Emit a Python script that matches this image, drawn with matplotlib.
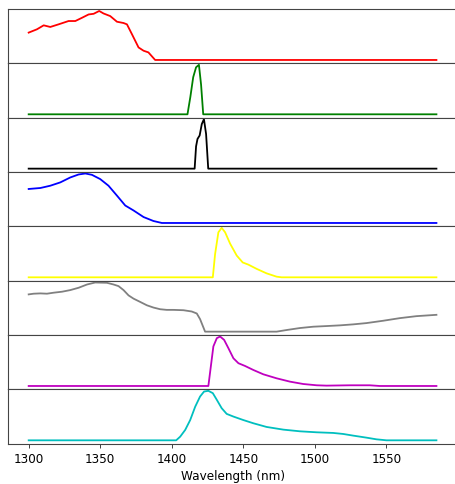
import matplotlib
matplotlib.use("Agg")
import matplotlib.pyplot as plt

# normalised spectra (wavelength in nm, intensity 0..1)
red_x = [1300, 1305.8, 1310.5, 1315.1, 1320.9, 1327.9, 1332.6, 1337.3, 1341.9, 1345.4, 1349.3,
         1352.3, 1357, 1361.7, 1366.3, 1368.7, 1372.2, 1376.8, 1380.3, 1383.7, 1388.4, 1585]
red_y = [0.553, 0.62, 0.70, 0.667, 0.72, 0.787, 0.787, 0.853, 0.92, 0.933, 0.99,
         0.94, 0.887, 0.773, 0.747, 0.72, 0.52, 0.253, 0.187, 0.153, 0.0, 0.0]

green_x = [1300, 1411, 1413, 1415, 1417, 1419, 1420.5, 1422, 1585]
green_y = [0.0, 0.0, 0.35, 0.75, 0.95, 1.0, 0.6, 0.0, 0.0]

black_x = [1300, 1416, 1417, 1418, 1419.5, 1421, 1422.5, 1424, 1425.5, 1585]
black_y = [0.0, 0.0, 0.45, 0.6, 0.67, 0.9, 1.0, 0.7, 0.0, 0.0]

blue_x = [1300, 1308.2, 1315.1, 1322.1, 1329.1, 1334.9, 1339.6, 1344.2, 1350, 1355.8,
          1361.7, 1367.5, 1373.3, 1380.3, 1387.2, 1393.1, 1585]
blue_y = [0.687, 0.707, 0.753, 0.82, 0.92, 0.98, 1.0, 0.973, 0.887, 0.753,
          0.553, 0.353, 0.253, 0.12, 0.04, 0.0, 0.0]

yellow_x = [1300, 1428.7, 1430.3, 1432.6, 1434.9, 1437.3, 1440.8, 1445.4, 1449.6, 1453.5,
            1459.4, 1466.3, 1473.3, 1476.8, 1585]
yellow_y = [0.0, 0.0, 0.47, 0.91, 1.0, 0.91, 0.68, 0.44, 0.30, 0.257,
            0.17, 0.08, 0.013, 0.0, 0.0]

gray_x = [1300, 1303.5, 1308.2, 1312.8, 1317.4, 1323.3, 1329.1, 1334.9, 1340.8, 1346.5,
          1354.7, 1359.3, 1362.8, 1366.3, 1369.8, 1373.3, 1378, 1382.6, 1387.2, 1391.9,
          1396.5, 1401.2, 1408.2, 1414, 1417.5, 1419.8, 1422.1, 1423.3, 1473.3, 1480.3,
          1489.6, 1498.9, 1508.2, 1517.5, 1526.8, 1536.1, 1547.7, 1559.4, 1571, 1585]
gray_y = [0.753, 0.767, 0.773, 0.767, 0.787, 0.807, 0.84, 0.887, 0.953, 0.993,
          0.987, 0.953, 0.92, 0.84, 0.733, 0.667, 0.6, 0.533, 0.487, 0.453,
          0.44, 0.44, 0.433, 0.407, 0.367, 0.253, 0.087, 0.0, 0.0, 0.033,
          0.073, 0.1, 0.113, 0.127, 0.147, 0.173, 0.22, 0.273, 0.313, 0.34]

magenta_x = [1300, 1425.6, 1427.3, 1429.1, 1431.5, 1433.8, 1436.6, 1439.6, 1443.1, 1446.6,
             1451.2, 1457, 1464, 1473.3, 1482.6, 1491.9, 1501.3, 1508.2, 1524.5, 1538.4,
             1545.4, 1585]
magenta_y = [0.0, 0.0, 0.39, 0.80, 0.966, 1.0, 0.932, 0.764, 0.56, 0.46,
             0.405, 0.324, 0.236, 0.155, 0.088, 0.04, 0.014, 0.007, 0.014, 0.014,
             0.0, 0.0]

cyan_x = [1300, 1403.1, 1405.9, 1409.4, 1412.9, 1416.4, 1419.8, 1422.6, 1425.6, 1428.7,
          1431.5, 1434.9, 1438.4, 1443.1, 1450, 1457, 1466.3, 1478, 1489.6, 1501.3,
          1512.9, 1519.9, 1526.8, 1536.1, 1543.1, 1550.1, 1585]
cyan_y = [0.0, 0.0, 0.074, 0.21, 0.41, 0.68, 0.885, 0.986, 1.0, 0.953,
          0.818, 0.649, 0.534, 0.48, 0.41, 0.345, 0.27, 0.216, 0.182, 0.162,
          0.149, 0.128, 0.095, 0.054, 0.02, 0.0, 0.0]

series = [(red_x, red_y, 'r'), (green_x, green_y, 'g'), (black_x, black_y, 'k'),
          (blue_x, blue_y, 'b'), (yellow_x, yellow_y, 'yellow'), (gray_x, gray_y, 'gray'),
          (magenta_x, magenta_y, 'm'), (cyan_x, cyan_y, 'c')]

plt.rcParams['font.size'] = 12

fig, axes = plt.subplots(len(series), 1, sharex=True, figsize=(455/72, 484/72), dpi=72)
fig.subplots_adjust(left=0.0182, right=1.004, top=0.9814, bottom=0.0833, hspace=0)

for ax, (x, y, c) in zip(axes, series):
    ax.plot(x, y, color=c, linewidth=1.8)
    ax.set_ylim(-0.068, 1.03)
    ax.set_yticks([])
    ax.tick_params(axis='x', length=3.5, width=1.0, color='#444444', pad=6)
    for sp in ax.spines.values():
        sp.set_linewidth(1.1)
        sp.set_color('#444444')
    # right edge of the axes falls off the picture in the reference
    ax.spines['right'].set_visible(False)

for ax in axes[:-1]:
    ax.tick_params(axis='x', bottom=False)

axes[-1].set_xticks([1300, 1350, 1400, 1450, 1500, 1550])
axes[-1].set_xlabel("Wavelength (nm)", labelpad=4)

plt.savefig("out.png", dpi=72)
